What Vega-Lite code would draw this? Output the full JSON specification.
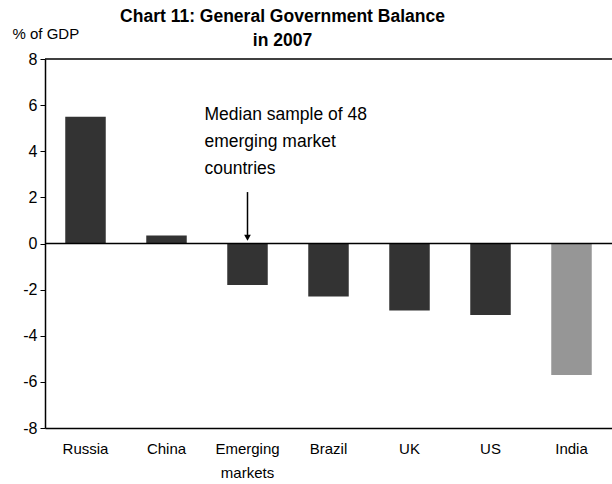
{
  "$schema": "https://vega.github.io/schema/vega-lite/v6.json",
  "width": 567,
  "height": 369,
  "autosize": {"type": "none"},
  "padding": {"left": 45, "top": 59, "right": 0, "bottom": 56},
  "background": "white",
  "config": {"view": {"stroke": null}, "font": "Liberation Sans"},
  "title": {
    "text": ["Chart 11: General Government Balance", "in 2007"],
    "anchor": "middle",
    "frame": "group",
    "dx": -46,
    "dy": 32,
    "offset": 9,
    "fontSize": 17.5,
    "fontWeight": "bold",
    "font": "Liberation Sans",
    "lineHeight": 24,
    "color": "black"
  },
  "datasets": {
    "bars": [
      {"country": "Russia", "value": 5.5, "grp": "main"},
      {"country": "China", "value": 0.35, "grp": "main"},
      {"country": "Emerging markets", "value": -1.8, "grp": "main"},
      {"country": "Brazil", "value": -2.3, "grp": "main"},
      {"country": "UK", "value": -2.9, "grp": "main"},
      {"country": "US", "value": -3.1, "grp": "main"},
      {"country": "India", "value": -5.7, "grp": "india"}
    ]
  },
  "layer": [
    {
      "data": {"name": "bars"},
      "mark": {"type": "bar"},
      "encoding": {
        "x": {
          "field": "country",
          "type": "nominal",
          "scale": {
            "domain": ["Russia", "China", "Emerging markets", "Brazil", "UK", "US", "India"],
            "paddingInner": 0.5,
            "paddingOuter": 0.25
          },
          "axis": {
            "title": null,
            "labelAngle": 0,
            "labelFontSize": 15,
            "labelColor": "black",
            "labelPadding": 13,
            "labelLineHeight": 24,
            "labelExpr": "split(datum.label, ' ')",
            "ticks": false,
            "domainColor": "black",
            "domainWidth": 1.5
          }
        },
        "y": {
          "field": "value",
          "type": "quantitative",
          "scale": {"domain": [-8, 8], "nice": false},
          "axis": {
            "values": [-8, -6, -4, -2, 0, 2, 4, 6, 8],
            "labelExpr": "replace(datum.label, '−', '-')",
            "grid": false,
            "title": "% of GDP",
            "titleAngle": 0,
            "titleAlign": "left",
            "titleBaseline": "middle",
            "titleX": -33,
            "titleY": -26,
            "titleFontSize": 15,
            "titleFontWeight": "normal",
            "titleColor": "black",
            "labelFontSize": 16,
            "labelColor": "black",
            "labelPadding": 3,
            "tickSize": 5,
            "tickColor": "black",
            "domainColor": "black",
            "domainWidth": 1.5
          }
        },
        "color": {
          "field": "grp",
          "type": "nominal",
          "scale": {"domain": ["main", "india"], "range": ["#333333", "#969696"]},
          "legend": null
        }
      }
    },
    {
      "data": {"values": [{"y": 8}, {"y": 0}]},
      "mark": {"type": "rule", "color": "black", "strokeWidth": 1.5},
      "encoding": {"y": {"field": "y", "type": "quantitative"}}
    },
    {
      "data": {"values": [{"country": "Emerging markets", "y": 2.23, "y2": 0.35}]},
      "mark": {"type": "rule", "color": "black", "strokeWidth": 1.5},
      "encoding": {
        "x": {"field": "country", "type": "nominal"},
        "y": {"field": "y", "type": "quantitative"},
        "y2": {"field": "y2"}
      }
    },
    {
      "data": {"values": [{"country": "Emerging markets", "y": 0.25}]},
      "mark": {"type": "point", "shape": "triangle-down", "filled": true, "color": "black", "size": 45, "opacity": 1},
      "encoding": {
        "x": {"field": "country", "type": "nominal"},
        "y": {"field": "y", "type": "quantitative"}
      }
    },
    {
      "data": {"values": [{"country": "Emerging markets", "y": 6, "note": "Median sample of 48\nemerging market\ncountries"}]},
      "mark": {"type": "text", "align": "left", "baseline": "top", "dx": -43, "dy": 1, "fontSize": 17.5, "lineHeight": 27, "lineBreak": "\n", "color": "black"},
      "encoding": {
        "x": {"field": "country", "type": "nominal"},
        "y": {"field": "y", "type": "quantitative"},
        "text": {"field": "note"}
      }
    }
  ]
}
